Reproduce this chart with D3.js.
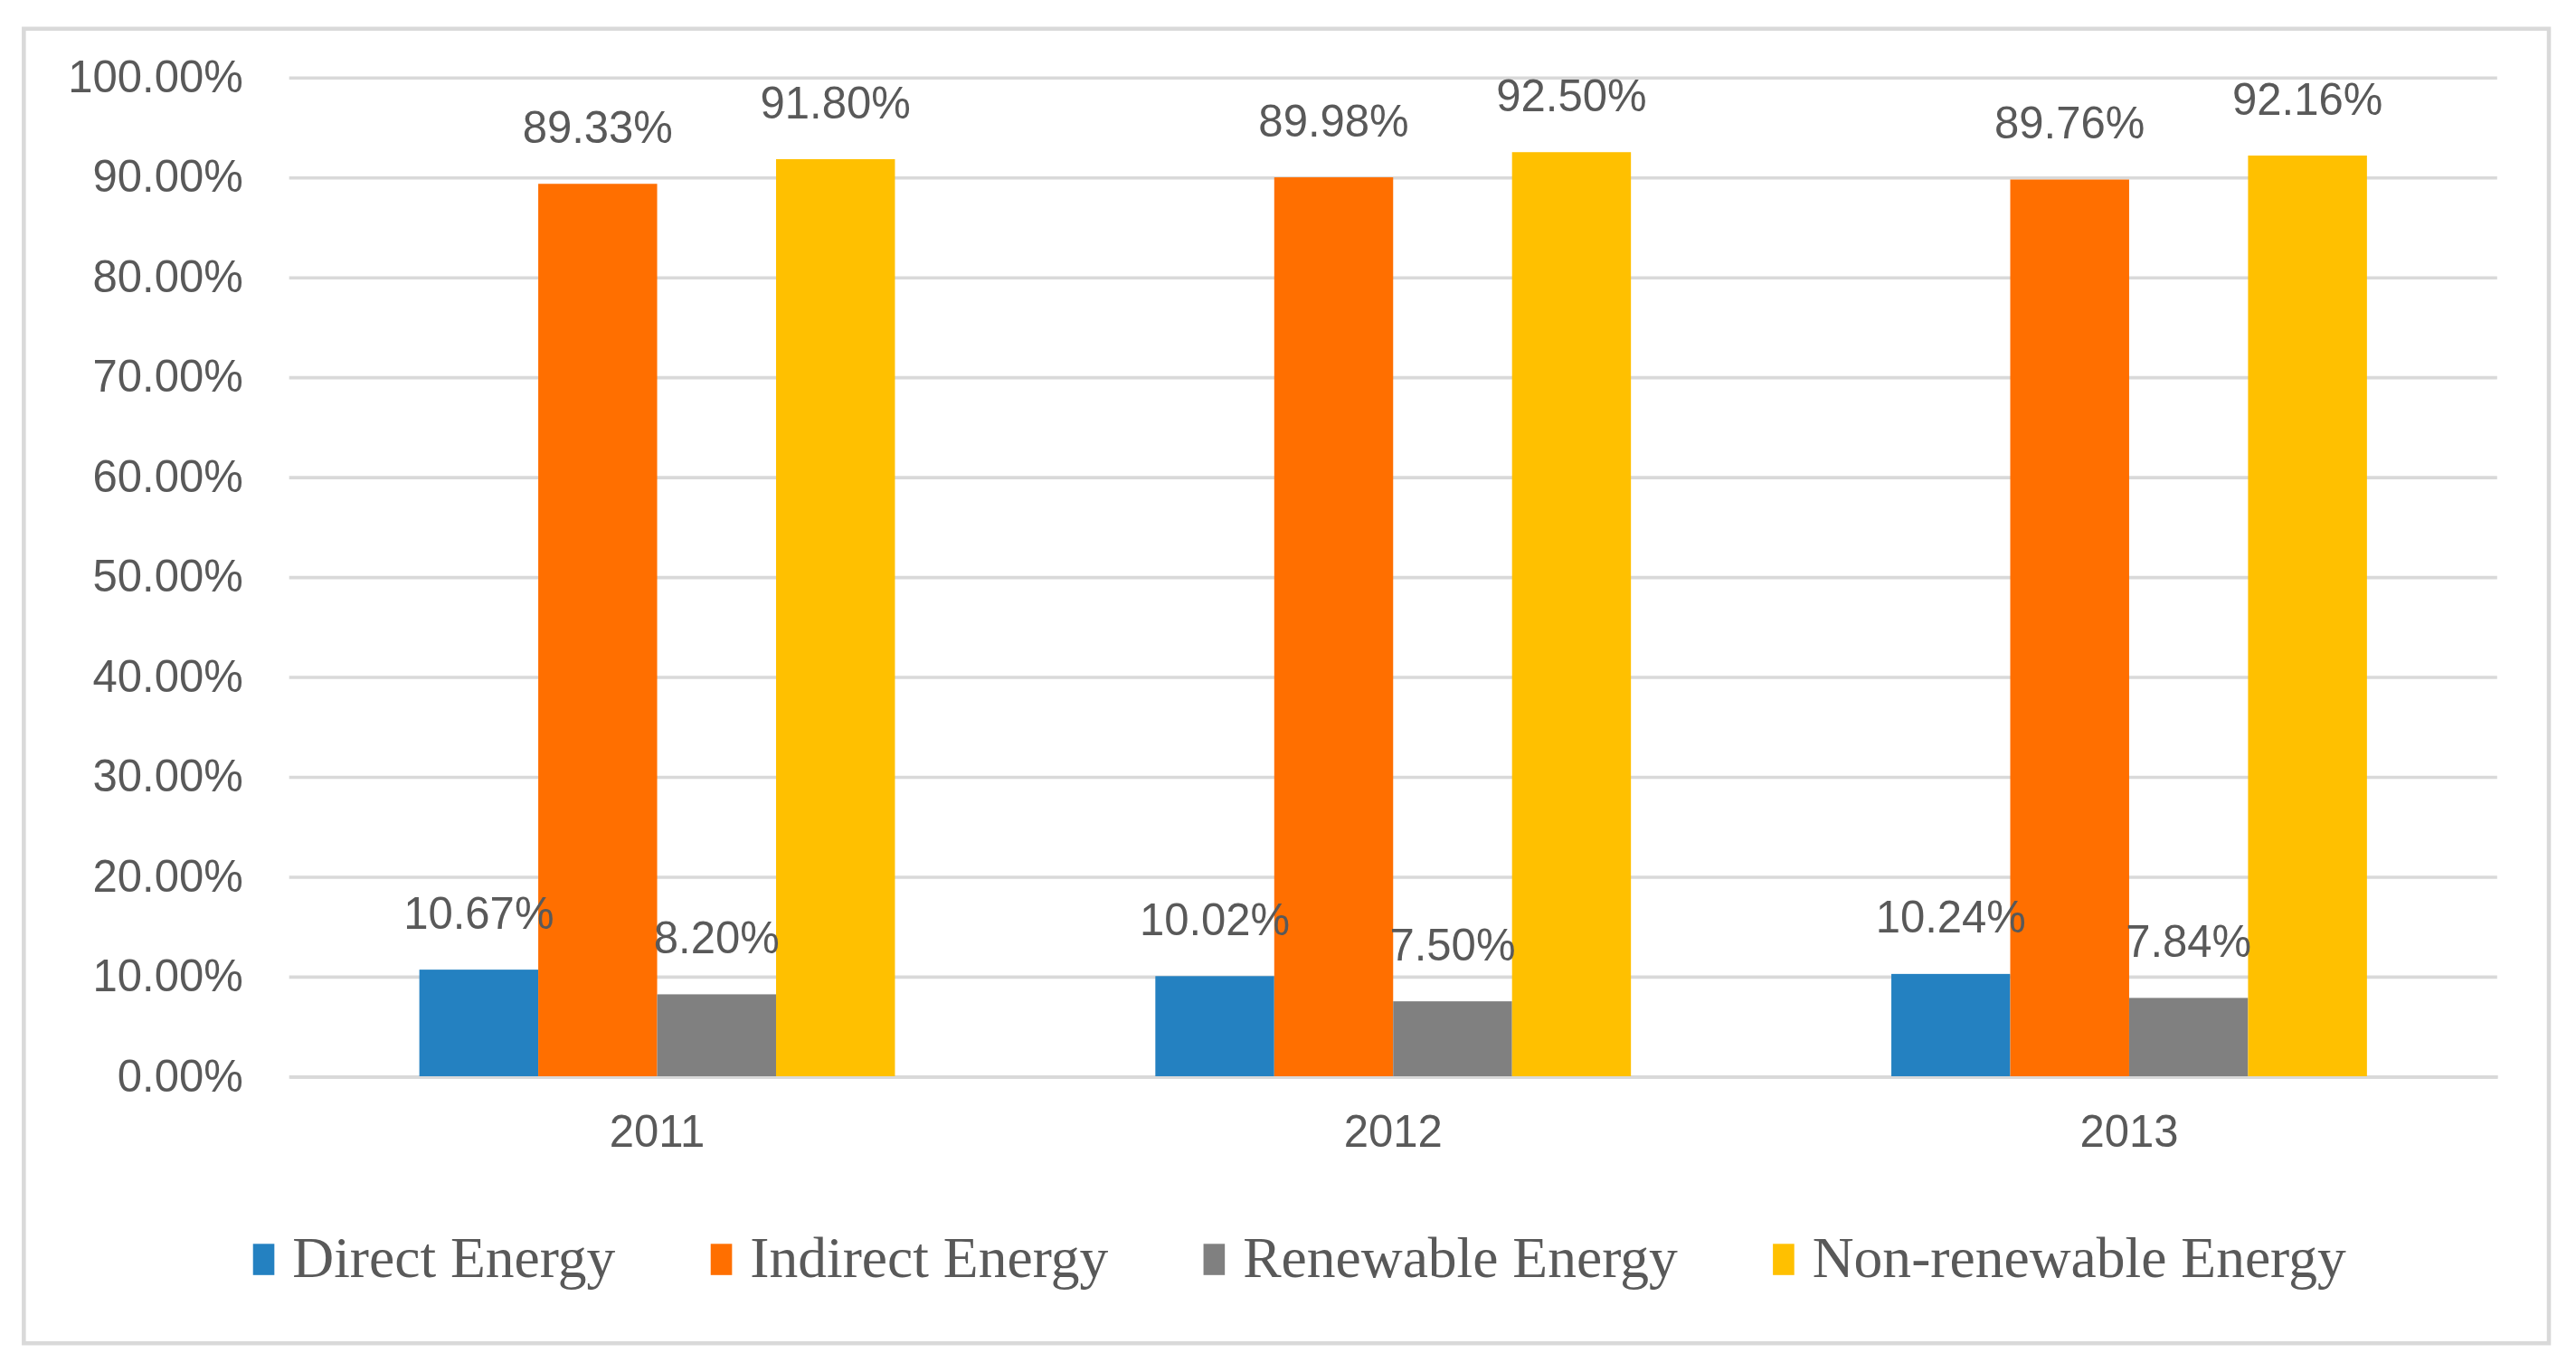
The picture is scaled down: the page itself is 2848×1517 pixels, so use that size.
<!DOCTYPE html>
<html>
<head>
<meta charset="utf-8">
<script src="https://cdn.jsdelivr.net/npm/d3@7"></script>
<style>
  html, body { margin: 0; padding: 0; background: #fff; }
  svg { display: block; }
</style>
</head>
<body>
<svg id="chart"></svg>
<script>
// chart values
const years = ["2011", "2012", "2013"];
const seriesNames = ["Direct Energy", "Indirect Energy", "Renewable Energy", "Non-renewable Energy"];
const seriesColors = ["#2481c1", "#ff6f00", "#808080", "#ffc000"];
const directEnergy = [10.67, 10.02, 10.24];
const indirectEnergy = [89.33, 89.98, 89.76];
const renewableEnergy = [8.20, 7.50, 7.84];
const nonRenewableEnergy = [91.80, 92.50, 92.16];
const yTicks = [0, 10, 20, 30, 40, 50, 60, 70, 80, 90, 100];

const seriesValues = [directEnergy, indirectEnergy, renewableEnergy, nonRenewableEnergy];

// drawing is laid out on a 1568 x 835 grid, stretched to the window
const W = 1568, H = 835;
const margin = { top: 47, right: 48, bottom: 180, left: 176 };
const textColor = "#595959";
const gridColor = "#d9d9d9";

const svg = d3.select("#chart")
    .attr("width", 2848)
    .attr("height", 1517)
    .attr("viewBox", `0 0 ${W} ${H}`)
    .attr("preserveAspectRatio", "none");

// outer chart border
svg.append("rect")
    .attr("x", 14.5).attr("y", 17.5)
    .attr("width", 1537).attr("height", 800)
    .attr("fill", "#fff")
    .attr("stroke", gridColor)
    .attr("stroke-width", 2.5);

const y = d3.scaleLinear()
    .domain([0, 100])
    .range([H - margin.bottom, margin.top]);

const x0 = d3.scaleBand()
    .domain(years)
    .range([margin.left, W - margin.right])
    .padding(0);

// Excel style gap width 219%
const barW = x0.bandwidth() / (seriesNames.length + 2.19);
const halfGap = barW * 2.19 / 2;
const x1 = d3.scaleBand()
    .domain(seriesNames)
    .range([halfGap, x0.bandwidth() - halfGap])
    .padding(0);

// gridlines + y labels
const yAxis = svg.append("g")
    .attr("transform", `translate(${margin.left},0)`)
    .call(d3.axisLeft(y)
        .tickValues(yTicks)
        .tickSize(-(W - margin.left - margin.right))
        .tickPadding(28)
        .tickFormat(d => d3.format(".2f")(d) + "%"));

yAxis.select(".domain").remove();
yAxis.selectAll(".tick line")
    .attr("stroke", gridColor)
    .attr("stroke-width", 2);
yAxis.selectAll(".tick text")
    .attr("fill", textColor)
    .style("font-family", "'Liberation Sans', Arial, sans-serif")
    .style("font-size", "27px");

// x labels
const xAxis = svg.append("g")
    .attr("transform", `translate(0,${H - margin.bottom})`)
    .call(d3.axisBottom(x0).tickSize(0).tickPadding(24));
xAxis.select(".domain")
    .attr("stroke", gridColor)
    .attr("stroke-width", 2);
xAxis.selectAll(".tick text")
    .attr("fill", textColor)
    .style("font-family", "'Liberation Sans', Arial, sans-serif")
    .style("font-size", "27px");

const cellData = (yr, i) => seriesNames.map((name, s) => ({ name, s, value: seriesValues[s][i] }));

// bars
const groups = svg.append("g")
    .selectAll("g")
    .data(years)
    .join("g")
    .attr("transform", d => `translate(${x0(d)},0)`);

groups.selectAll("rect")
    .data(cellData)
    .join("rect")
    .attr("x", d => x1(d.name))
    .attr("y", d => y(d.value))
    .attr("width", x1.bandwidth())
    .attr("height", d => y(0) - y(d.value))
    .attr("fill", d => seriesColors[d.s]);

// value labels, drawn above all bars
const labelGroups = svg.append("g")
    .selectAll("g")
    .data(years)
    .join("g")
    .attr("transform", d => `translate(${x0(d)},0)`);

labelGroups.selectAll("text")
    .data(cellData)
    .join("text")
    .attr("x", d => x1(d.name) + x1.bandwidth() / 2)
    .attr("y", d => y(d.value) - 25)
    .attr("text-anchor", "middle")
    .attr("fill", textColor)
    .style("font-family", "'Liberation Sans', Arial, sans-serif")
    .style("font-size", "27px")
    .text(d => d3.format(".2f")(d.value) + "%");

// legend
const legend = svg.append("g");
const items = legend.selectAll("g")
    .data(seriesNames)
    .join("g");

items.append("rect")
    .attr("x", 0).attr("y", -20)
    .attr("width", 13).attr("height", 19)
    .attr("fill", (d, i) => seriesColors[i]);

items.append("text")
    .attr("x", 24)
    .attr("y", 0)
    .attr("fill", textColor)
    .style("font-family", "'Liberation Serif', 'Times New Roman', serif")
    .style("font-size", "35px")
    .text(d => d);

let offset = 0;
items.each(function () {
    const len = d3.select(this).select("text").node().getComputedTextLength();
    d3.select(this).attr("transform", `translate(${offset},0)`);
    offset += 24 + len + 58;
});
const legendW = offset - 58;
legend.attr("transform", `translate(${791 - legendW / 2},777)`);
</script>
</body>
</html>
